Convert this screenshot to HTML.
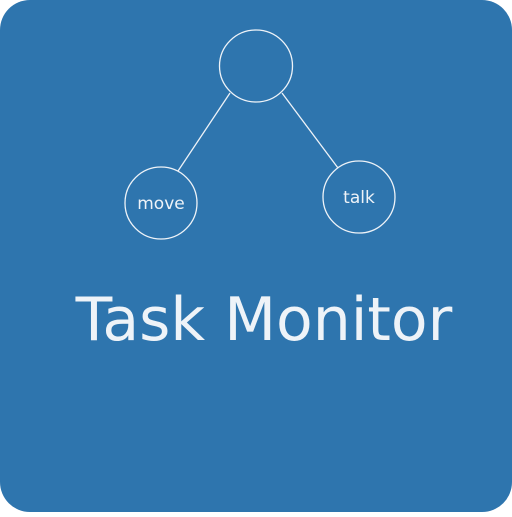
<!DOCTYPE html>
<html><head><style>
html,body{margin:0;padding:0;background:#fff;}
</style></head><body>
<svg width="512" height="512" xmlns="http://www.w3.org/2000/svg">
<rect x="0" y="0" width="512" height="512" rx="30" ry="30" fill="#2e75ae"/>
<g fill="none" stroke="#eef3f8" stroke-width="1.3">
<ellipse cx="256" cy="66" rx="36.5" ry="36"/>
<circle cx="161" cy="203" r="36"/>
<circle cx="359" cy="197" r="36"/>
<line x1="230" y1="93" x2="178" y2="171"/>
<line x1="282" y1="93" x2="338" y2="168"/>
</g>
<g fill="#eef3f8" font-family="'DejaVu Sans','Liberation Sans',sans-serif">
<text x="161" y="209" font-size="17" text-anchor="middle">move</text>
<text x="359" y="203" font-size="17" text-anchor="middle">talk</text>
<text x="264" y="340" font-size="60" text-anchor="middle">Task Monitor</text>
</g>
</svg>
</body></html>
